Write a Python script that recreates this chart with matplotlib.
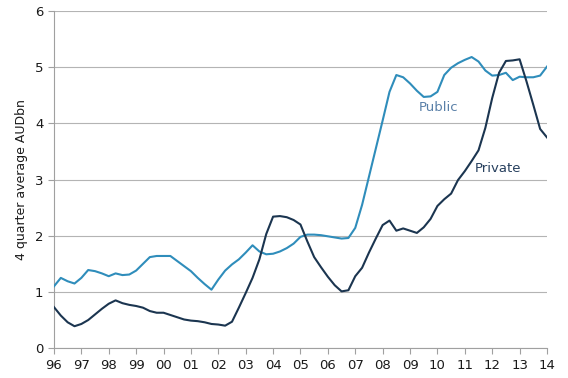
import matplotlib
matplotlib.use("Agg")
import matplotlib.pyplot as plt
import numpy as np

PUBLIC_C  = "#2f8dbb"
PRIVATE_C = "#1b3550"
GRID_C    = "#b4b4b4"
AXIS_C    = "#a0a0a0"
TEXT_C    = "#1a1a1a"

# quarterly, 1996 Q1 .. 2014 Q1
start_year = 1996
public = [
    1.10, 1.25, 1.19, 1.15, 1.25, 1.39, 1.37, 1.33,
    1.28, 1.33, 1.30, 1.31, 1.38, 1.50, 1.62, 1.64,
    1.64, 1.64, 1.55, 1.46, 1.37, 1.25, 1.14, 1.04,
    1.22, 1.38, 1.49, 1.58, 1.70, 1.83, 1.72, 1.67,
    1.68, 1.72, 1.78, 1.86, 1.98, 2.02, 2.02, 2.01,
    1.99, 1.97, 1.95, 1.96, 2.14, 2.55, 3.05, 3.55,
    4.05, 4.56, 4.86, 4.82, 4.71, 4.58, 4.47, 4.48,
    4.56, 4.86, 4.99, 5.07, 5.13, 5.18, 5.10, 4.94,
    4.85, 4.86, 4.90, 4.77, 4.83, 4.82, 4.82, 4.85,
    5.01,
]
private = [
    0.73, 0.58, 0.46, 0.39, 0.43, 0.50, 0.60, 0.70,
    0.79, 0.85, 0.80, 0.77, 0.75, 0.72, 0.66, 0.63,
    0.63, 0.59, 0.55, 0.51, 0.49, 0.48, 0.46, 0.43,
    0.42, 0.40, 0.47, 0.72, 0.98, 1.25, 1.58, 2.03,
    2.34, 2.35, 2.33, 2.28, 2.20, 1.90, 1.62, 1.44,
    1.27, 1.12, 1.01, 1.03, 1.28, 1.43, 1.70, 1.95,
    2.19, 2.27, 2.09, 2.13, 2.09, 2.05, 2.15, 2.30,
    2.53, 2.65, 2.75, 2.99, 3.15, 3.33, 3.52, 3.92,
    4.45, 4.90, 5.11, 5.12, 5.14, 4.75, 4.33, 3.90,
    3.75,
]
years = np.arange(1996, 2015)
year_labels = [f"{y % 100:02d}" for y in years]

t = start_year + np.arange(len(public)) / 4.0

fig = plt.figure(figsize=(5.68, 3.78), dpi=100)
ax = fig.add_axes([0.095, 0.079, 0.868, 0.892])

ax.plot(t, public, color=PUBLIC_C, lw=1.5, zorder=3)
ax.plot(t, private, color=PRIVATE_C, lw=1.5, zorder=3)

ax.set_xlim(1996, 2014)
ax.set_ylim(0, 6)
ax.set_xticks(years)
ax.set_xticklabels(year_labels)
ax.set_yticks(range(0, 7))

ax.grid(axis="y", color=GRID_C, lw=0.8)
ax.set_axisbelow(True)
for s in ["top", "right"]:
    ax.spines[s].set_visible(False)
for s in ["left", "bottom"]:
    ax.spines[s].set_color(AXIS_C)
    ax.spines[s].set_linewidth(0.8)
ax.tick_params(axis="both", colors=AXIS_C, labelcolor=TEXT_C, labelsize=9.5,
               length=4, width=0.8)

ax.set_ylabel("4 quarter average AUDbn", fontsize=9, color=TEXT_C, labelpad=5)

ax.text(2010.05, 4.29, "Public", color="#5a80a8", fontsize=9.5, ha="center", va="center")
ax.text(2012.2, 3.19, "Private", color="#27405e", fontsize=9.5, ha="center", va="center")

fig.savefig("out.png", dpi=100)
